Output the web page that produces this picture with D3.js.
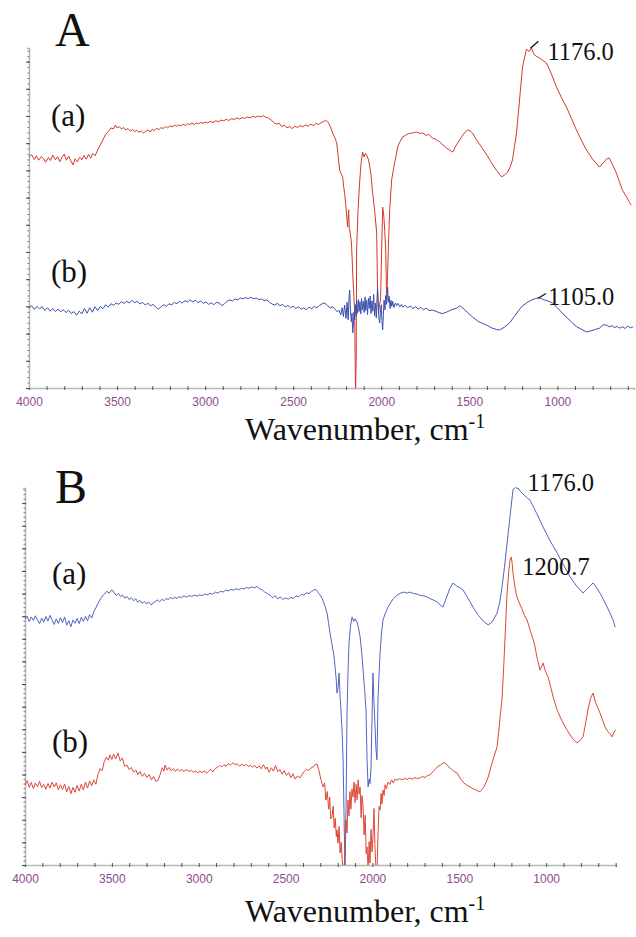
<!DOCTYPE html>
<html>
<head>
<meta charset="utf-8">
<script src="https://cdn.jsdelivr.net/npm/d3@7"></script>
<style>
  body { margin: 0; background: #fff; }
  .serif { font-family: "Liberation Serif", "Times New Roman", serif; fill: #111; }
  .axis text { font-family: "Liberation Sans", Arial, sans-serif; font-size: 12px; fill: #8e4a91; }
</style>
</head>
<body>
<div id="chart"></div>
<script>
// [wavenumber cm-1, transmittance (a.u.)]
const redA = [
  [4000,67.9],[3985,68.6],[3970,67.2],[3958,68.3],[3945,67.0],[3930,68.1],[3918,67.5],[3905,66.4],[3890,67.8],[3878,66.9],
  [3865,68.5],[3850,67.1],[3838,68.0],[3825,66.6],[3812,67.9],[3800,68.8],[3788,67.0],[3775,68.2],[3762,66.8],[3750,65.6],
  [3738,67.4],[3725,66.5],[3712,67.9],[3700,67.1],[3688,68.4],[3675,67.3],[3662,68.7],[3650,67.6],[3638,69.0],[3625,68.3],
  [3610,70.0],[3595,71.5],[3580,73.0],[3565,74.6],[3550,75.4],[3535,76.5],[3520,76.2],[3510,77.3],[3500,76.5],[3488,76.9],
  [3475,76.2],[3462,76.6],[3450,75.9],[3438,76.3],[3425,75.6],[3412,76.0],[3400,75.4],[3388,75.8],[3375,75.2],[3362,75.6],
  [3350,75.0],[3338,75.5],[3325,75.9],[3312,75.3],[3300,76.1],[3288,75.7],[3275,76.4],[3262,76.0],[3250,76.6],[3238,76.3],
  [3225,76.9],[3212,76.5],[3200,77.1],[3188,76.8],[3175,77.3],[3162,77.0],[3150,77.4],[3138,77.1],[3125,77.6],[3112,77.2],
  [3100,77.7],[3088,77.5],[3075,77.9],[3062,77.5],[3050,78.0],[3038,77.7],[3025,78.1],[3012,77.8],[3000,78.2],[2985,78.0],
  [2970,78.4],[2955,78.1],[2940,78.6],[2925,78.3],[2910,78.8],[2895,78.6],[2880,79.0],[2865,78.7],[2850,79.2],[2835,79.0],
  [2820,79.4],[2805,79.1],[2790,79.5],[2775,79.3],[2760,79.7],[2745,79.5],[2730,79.9],[2715,79.6],[2700,80.0],[2685,79.7],
  [2670,80.1],[2655,79.6],[2640,79.4],[2625,78.8],[2610,78.1],[2595,77.6],[2580,77.9],[2565,76.9],[2550,77.3],[2535,76.5],
  [2520,76.9],[2505,76.3],[2490,77.0],[2475,76.6],[2460,77.2],[2445,76.8],[2430,77.4],[2415,77.0],[2400,77.6],[2385,77.2],
  [2370,77.8],[2355,77.5],[2340,78.1],[2325,78.4],[2315,78.8],[2300,78.0],[2290,77.0],[2276,75.0],[2265,73.8],[2253,72.1],
  [2244,68.0],[2236,64.1],[2228,63.0],[2219,62.1],[2213,59.0],[2208,57.4],[2200,53.0],[2191,47.4],[2185,52.4],[2182,47.0],
  [2179,46.5],[2172,44.0],[2168,41.5],[2162,33.8],[2151,22.1],[2146,-2],[2142,10],[2140,40.6],[2132,52],[2123,60.3],
  [2115,66],[2106,69.4],[2098,68.0],[2090,69.0],[2083,68.5],[2072,67.1],[2060,63.5],[2049,57.4],[2038,52.4],[2026,45.6],
  [2021,28.8],[2015,22.1],[2010,24.5],[2004,25.9],[1998,40],[1992,53.2],[1986,50.9],[1980,46],[1975,40.6],[1969,25.9],
  [1964,33.8],[1958,44],[1952,52.4],[1941,61.2],[1932,64.0],[1924,66.2],[1915,68.5],[1907,70.9],[1895,72.3],[1879,73.8],
  [1860,74.4],[1840,74.9],[1822,75.0],[1800,75.3],[1780,74.9],[1765,75.0],[1745,74.3],[1730,74.6],[1709,73.5],[1690,73.1],
  [1669,72.4],[1650,71.5],[1630,70.6],[1612,70.0],[1595,69.4],[1570,71.8],[1544,73.8],[1525,75.2],[1510,75.9],[1495,75.6],
  [1482,75.0],[1460,73.0],[1431,70.9],[1400,68.5],[1374,66.2],[1345,64.0],[1317,62.1],[1300,62.6],[1283,63.5],[1268,65.0],
  [1255,67.1],[1245,70.5],[1232,75.0],[1215,84.7],[1198,94.4],[1185,97.5],[1176,99.6],[1160,99.0],[1147,100],[1138,98.8],
  [1130,97.9],[1100,97.0],[1062,95.6],[1035,92.5],[1005,88.5],[975,85.2],[948,82.6],[920,79.2],[892,75.9],[865,73.0],
  [835,70.0],[800,67.3],[775,65.8],[761,65.0],[740,66.2],[720,67.4],[705,67.6],[690,66.0],[665,63.2],[650,61.0],
  [631,58.2],[605,56.0],[590,54.5],[580,53.8]
]

const blueA = [
  [4000,23.5],[3985,24.2],[3970,23.1],[3955,24.0],[3940,23.3],[3925,23.9],[3910,22.8],[3895,23.6],[3880,22.6],[3865,23.4],
  [3850,22.5],[3835,23.2],[3820,22.4],[3805,23.0],[3790,22.2],[3775,22.9],[3760,21.9],[3745,22.5],[3730,21.4],[3715,22.6],
  [3700,21.8],[3685,23.4],[3670,22.0],[3655,23.6],[3640,22.3],[3625,23.9],[3610,22.8],[3595,24.0],[3580,23.3],[3565,24.5],
  [3550,23.8],[3535,24.8],[3520,24.3],[3505,25.0],[3490,24.6],[3475,25.4],[3460,24.9],[3445,25.5],[3430,25.0],[3415,25.8],
  [3400,25.1],[3385,25.5],[3370,24.7],[3355,25.2],[3340,24.4],[3325,24.9],[3310,24.2],[3295,24.6],[3280,23.8],[3265,23.2],
  [3250,23.9],[3235,24.5],[3220,24.0],[3205,24.8],[3190,24.4],[3175,25.2],[3160,24.8],[3145,25.5],[3130,25.0],[3115,25.7],
  [3100,25.3],[3085,25.9],[3070,25.4],[3055,25.8],[3040,25.1],[3025,25.6],[3010,24.9],[2995,25.3],[2980,24.6],[2965,25.1],
  [2950,24.5],[2935,25.2],[2920,25.0],[2905,24.2],[2890,24.8],[2875,25.5],[2860,25.9],[2845,25.6],[2830,26.2],[2815,25.9],
  [2800,26.5],[2785,26.2],[2770,26.6],[2755,26.3],[2740,26.7],[2725,26.2],[2710,26.5],[2695,26.0],[2680,26.2],[2665,25.7],
  [2650,25.9],[2635,25.2],[2620,24.7],[2605,24.4],[2590,24.9],[2575,24.2],[2560,24.6],[2545,23.8],[2530,24.3],[2515,23.6],
  [2500,24.1],[2485,23.4],[2470,23.9],[2455,23.2],[2440,23.6],[2425,23.0],[2410,23.8],[2395,23.3],[2380,24.0],[2365,23.6],
  [2350,24.3],[2335,24.8],[2321,25.0],[2305,24.2],[2290,23.6],[2275,23.9],[2260,23.0],[2250,22.4],[2240,22.9],[2230,21.5],
  [2222,23.6],[2215,21.0],[2208,24.4],[2200,20.5],[2194,25.2],[2188,20.1],[2182,27.2],[2179,28.8],[2175,23.0],[2170,19.5],
  [2166,22.0],[2162,16.2],[2158,18.8],[2155,22.4],[2151,20.0],[2147,24.5],[2143,21.2],[2140,25.9],[2135,22.0],[2130,26.0],
  [2126,22.5],[2121,25.4],[2116,21.8],[2112,26.3],[2107,23.0],[2102,25.5],[2097,22.2],[2092,26.8],[2088,22.8],[2083,25.8],
  [2078,21.6],[2073,26.4],[2068,23.4],[2063,27.0],[2058,21.9],[2053,25.6],[2048,22.6],[2043,27.5],[2038,21.2],[2033,25.0],
  [2028,20.6],[2024,26.2],[2021,29.7],[2017,23.5],[2013,20.4],[2009,19.1],[2004,22.8],[2000,24.5],[1996,19.8],[1992,17.1],
  [1988,21.6],[1984,25.8],[1979,23.0],[1975,27.2],[1970,24.6],[1966,28.4],[1964,29.7],[1960,25.2],[1955,27.0],[1950,23.4],
  [1945,25.8],[1940,24.0],[1935,25.5],[1928,23.7],[1920,25.0],[1913,24.2],[1905,24.9],[1895,23.9],[1885,24.6],[1879,23.8],
  [1865,24.3],[1850,23.6],[1835,24.1],[1820,23.4],[1805,23.9],[1790,23.2],[1775,23.7],[1760,23.0],[1745,23.5],[1730,22.8],
  [1709,22.9],[1690,22.6],[1670,22.1],[1650,21.9],[1630,22.3],[1610,22.8],[1590,23.2],[1572,23.5],[1555,24.2],[1544,23.8],
  [1530,23.2],[1510,22.2],[1482,20.9],[1450,19.6],[1420,18.9],[1402,18.5],[1370,17.6],[1345,17.2],[1328,17.1],[1300,17.9],
  [1272,19.1],[1245,21.0],[1220,22.8],[1200,24.1],[1175,25.0],[1150,25.8],[1125,26.3],[1105,26.6],[1080,26.0],[1055,25.6],
  [1028,25.0],[1000,23.6],[970,21.9],[940,20.4],[914,19.1],[890,18.0],[860,17.2],[835,16.5],[810,16.8],[785,17.2],
  [761,17.6],[740,18.6],[722,18.5],[705,18.0],[690,18.3],[675,17.8],[660,18.1],[648,17.6],[630,18.0],[615,17.5],
  [600,18.2],[585,17.7],[570,18.0]
]

const blueB = [
  [4000,65.2],[3988,66.0],[3976,64.6],[3964,65.8],[3952,64.9],[3940,66.1],[3928,65.0],[3916,64.0],[3904,65.5],[3892,64.4],
  [3880,65.9],[3868,64.7],[3856,66.2],[3844,65.0],[3832,63.8],[3820,65.3],[3808,64.1],[3796,65.6],[3784,64.3],[3772,65.8],
  [3760,63.6],[3748,64.8],[3736,63.2],[3724,65.0],[3712,64.1],[3700,65.4],[3688,64.0],[3676,65.7],[3664,64.6],[3652,65.9],
  [3640,64.8],[3628,66.4],[3616,65.5],[3604,67.2],[3590,68.4],[3575,69.8],[3560,71.0],[3545,71.8],[3530,72.6],[3515,72.1],
  [3500,73.0],[3488,72.3],[3475,71.5],[3462,72.0],[3450,71.2],[3438,71.6],[3425,70.8],[3412,71.2],[3400,70.4],[3388,70.9],
  [3375,70.1],[3362,70.6],[3350,69.7],[3338,70.2],[3325,69.4],[3312,69.9],[3300,69.2],[3288,69.8],[3275,69.0],[3262,69.5],
  [3250,69.9],[3238,70.3],[3225,69.8],[3212,70.5],[3200,70.1],[3188,70.7],[3175,70.4],[3162,71.0],[3150,70.6],[3138,71.0],
  [3125,70.7],[3112,71.2],[3100,70.9],[3085,71.4],[3070,71.0],[3055,71.5],[3040,71.2],[3025,71.6],[3010,71.3],[2995,71.7],
  [2980,71.4],[2965,71.9],[2950,71.6],[2935,72.1],[2920,71.8],[2905,72.4],[2890,72.1],[2875,72.6],[2860,72.4],[2845,72.9],
  [2830,72.7],[2815,73.1],[2800,72.9],[2785,73.3],[2770,73.0],[2755,73.4],[2740,73.2],[2725,73.6],[2710,73.4],[2695,73.8],
  [2680,73.5],[2665,73.9],[2650,73.3],[2635,73.0],[2620,72.4],[2605,72.0],[2590,71.6],[2575,70.9],[2560,71.4],[2545,70.6],
  [2530,71.1],[2515,70.4],[2500,70.9],[2485,70.5],[2470,71.0],[2455,70.7],[2440,71.4],[2425,71.1],[2410,71.8],[2395,71.6],
  [2380,72.2],[2365,72.0],[2350,72.6],[2338,72.9],[2330,73.2],[2318,72.6],[2305,71.8],[2290,70.8],[2275,68.9],[2261,66.8],
  [2252,64.0],[2244,61.5],[2235,59.0],[2227,57.0],[2220,55.0],[2215,52.5],[2208,49.0],[2204,45.6],[2198,47.0],[2192,50.9],
  [2186,44.5],[2181,41.1],[2175,35.8],[2169,27.9],[2163,12.0],[2158,-2],[2152,15],[2146,41.1],[2140,52.0],[2135,58.9],
  [2126,63.5],[2117,65.8],[2108,64.6],[2100,65.3],[2089,64.5],[2080,62.8],[2071,60.5],[2062,56.5],[2054,51.7],[2045,46.5],
  [2037,41.1],[2031,27.9],[2025,20.7],[2019,22.8],[2014,21.6],[2008,26.0],[2002,40.0],[1997,50.9],[1991,43.0],[1985,36.6],
  [1980,31.0],[1974,27.9],[1968,43.8],[1962,50.5],[1956,56.2],[1948,61.5],[1939,65.0],[1925,66.9],[1910,68.4],[1895,69.6],
  [1880,70.6],[1858,71.6],[1840,72.1],[1820,72.4],[1800,72.1],[1784,72.4],[1765,72.0],[1745,71.9],[1725,71.5],[1705,71.4],
  [1686,71.1],[1665,70.6],[1645,70.2],[1628,69.8],[1610,69.0],[1594,68.4],[1575,70.8],[1555,73.3],[1536,74.8],[1515,74.0],
  [1495,73.5],[1478,72.9],[1450,70.8],[1421,68.4],[1390,66.2],[1360,64.6],[1334,63.7],[1310,64.5],[1283,66.8],[1268,69.5],
  [1254,73.7],[1240,79.0],[1225,85.4],[1208,92.5],[1191,99.5],[1176,100.2],[1170,99.9],[1162,100],[1150,99.2],[1139,98.7],
  [1115,97.6],[1093,96.8],[1055,93.3],[1018,89.7],[980,86.2],[937,82.8],[900,79.6],[862,76.4],[825,74.0],[788,72.1],
  [760,73.4],[730,74.8],[710,73.6],[690,72.1],[660,69.5],[632,66.8],[615,65.0],[603,63.1]
]

const redB = [
  [4000,21.2],[3988,22.4],[3976,20.6],[3964,21.9],[3952,20.3],[3940,21.7],[3928,20.8],[3916,22.2],[3904,20.5],[3892,21.4],
  [3880,20.1],[3868,21.6],[3856,20.4],[3844,22.0],[3832,20.7],[3820,21.8],[3808,19.9],[3796,21.3],[3784,20.0],[3772,21.5],
  [3760,19.4],[3748,20.8],[3736,18.9],[3724,20.6],[3712,19.3],[3700,21.1],[3688,19.6],[3676,21.4],[3664,19.9],[3652,22.0],
  [3640,20.4],[3628,22.3],[3616,21.0],[3604,22.6],[3592,21.4],[3580,24.0],[3568,25.6],[3556,25.0],[3544,27.4],[3532,28.6],
  [3520,27.8],[3511,29.2],[3500,28.0],[3490,29.4],[3478,28.1],[3465,29.7],[3452,27.6],[3440,28.4],[3426,26.2],[3413,26.5],
  [3400,25.3],[3388,25.9],[3375,24.6],[3362,25.2],[3350,24.0],[3338,24.8],[3325,23.5],[3312,24.3],[3298,23.2],[3285,24.0],
  [3272,22.6],[3260,23.5],[3247,22.2],[3234,22.5],[3222,24.0],[3210,25.8],[3200,24.9],[3194,26.5],[3182,25.2],[3170,25.9],
  [3158,25.0],[3146,25.6],[3134,24.8],[3122,25.5],[3110,24.9],[3098,25.4],[3086,24.7],[3074,25.3],[3067,25.2],[3055,24.8],
  [3042,25.1],[3030,24.6],[3018,25.0],[3006,24.4],[2994,24.9],[2980,24.5],[2968,25.0],[2955,24.3],[2942,24.9],[2930,25.4],
  [2918,24.7],[2905,25.6],[2892,25.9],[2880,26.4],[2868,26.0],[2855,26.6],[2842,26.2],[2830,26.9],[2818,26.5],[2803,27.1],
  [2790,26.6],[2778,26.9],[2765,26.2],[2752,26.8],[2740,26.3],[2728,26.7],[2715,26.1],[2702,26.5],[2690,25.9],[2678,26.4],
  [2665,25.7],[2652,26.3],[2640,25.5],[2627,26.6],[2615,25.4],[2607,26.0],[2595,24.6],[2582,25.8],[2570,24.9],[2558,26.4],
  [2545,24.8],[2532,25.3],[2520,24.1],[2508,25.0],[2495,23.8],[2482,24.5],[2470,23.1],[2458,24.2],[2445,22.8],[2432,23.6],
  [2417,23.1],[2405,24.0],[2392,24.8],[2380,25.4],[2368,25.0],[2355,25.7],[2342,26.0],[2330,26.6],[2319,26.8],[2310,25.4],
  [2302,23.8],[2295,22.4],[2284,20.7],[2275,21.8],[2268,17.2],[2260,19.5],[2252,14.8],[2246,18.0],[2240,12.2],[2233,12.7],
  [2226,15.6],[2220,9.8],[2214,12.4],[2208,7.5],[2204,9.3],[2198,5.8],[2192,10.2],[2186,3.2],[2180,6.0],[2175,2.1],
  [2170,-1],[2164,-2],[2158,4.0],[2152,12.0],[2146,8.5],[2141,17.2],[2135,13.0],[2130,19.5],[2124,14.8],[2118,20.2],
  [2112,18.0],[2106,22.0],[2100,16.5],[2094,21.4],[2088,17.3],[2082,22.6],[2077,18.8],[2071,20.7],[2065,12.5],[2060,18.4],
  [2054,15.4],[2048,8.0],[2042,13.2],[2036,3.0],[2031,4.8],[2025,-1],[2019,6.2],[2014,0.5],[2008,9.4],[2002,3.5],
  [1997,7.4],[1991,15.0],[1986,5.5],[1980,-1.0],[1974,-2],[1968,8.0],[1962,15.5],[1956,14.6],[1950,19.0],[1945,16.2],
  [1939,19.9],[1933,18.4],[1927,21.3],[1920,20.2],[1910,22.0],[1900,21.4],[1890,22.6],[1880,21.8],[1870,22.8],[1858,22.5],
  [1845,22.9],[1830,22.6],[1815,23.0],[1800,22.7],[1785,23.1],[1770,22.8],[1755,23.2],[1740,22.9],[1726,23.1],[1712,23.5],
  [1698,23.2],[1684,23.7],[1668,23.9],[1650,24.8],[1630,25.9],[1610,26.5],[1595,27.0],[1582,27.1],[1565,26.2],[1545,25.4],
  [1530,24.8],[1513,24.4],[1495,23.0],[1475,21.8],[1458,21.2],[1438,20.7],[1420,20.2],[1400,19.8],[1381,19.4],[1360,20.6],
  [1345,22.0],[1334,23.3],[1315,26.5],[1300,28.8],[1283,31.3],[1274,35.0],[1265,39.3],[1254,44.0],[1245,52.0],[1235,62.0],
  [1225,72.1],[1215,78.0],[1208,80.8],[1201,81.7],[1196,80.2],[1191,77.5],[1180,73.8],[1170,71.4],[1162,70.3],[1140,68.0],
  [1125,66.2],[1110,65.0],[1090,62.0],[1075,59.9],[1064,57.8],[1050,54.5],[1035,51.7],[1025,52.8],[1018,53.6],[1005,51.5],
  [989,49.9],[975,47.4],[960,44.6],[937,41.1],[910,38.3],[880,35.8],[850,33.6],[822,32.4],[805,33.0],[788,34.0],
  [775,37.0],[760,41.1],[745,44.2],[730,45.6],[715,43.0],[700,41.4],[690,40.3],[675,38.5],[661,36.6],[645,35.4],
  [632,34.8],[621,34.0],[610,35.2],[600,35.8]
]

const xTicks = d3.range(4000, 550, -100)
const tickLabels = [4000, 3500, 3000, 2500, 2000, 1500, 1000]

const svg = d3.select('#chart')
    .append('svg')
        .attr('width', 636)
        .attr('height', 937)

const createPanel = (id, {left, right, top, bottom, wnEnd, major}) => {
    const xScale = d3.scaleLinear().domain([4000, wnEnd]).range([left, right])
    const yScale = d3.scaleLinear().domain([0, 100]).range([bottom, top])
    const g = svg.append('g').attr('class', 'panel')

    g.append('clipPath')
        .attr('id', 'clip' + id)
        .append('rect')
            .attr('x', left)
            .attr('y', top - 2)
            .attr('width', right - left + 2)
            .attr('height', bottom - top + 2)

    // x axis: tick every 100, label every 500
    const xAxis = d3.axisBottom(xScale)
        .tickValues(xTicks.filter((d) => d >= wnEnd))
        .tickSize(2)
        .tickFormat((d) => tickLabels.includes(d) ? d : '')
    const xg = g.append('g')
        .attr('class', 'axis')
        .attr('transform', 'translate(0,' + bottom + ')')
        .call(xAxis)
    xg.select('.domain').attr('stroke', '#b8b8b8').attr('stroke-width', 1.5)
    xg.selectAll('.tick line').attr('y1', -2).attr('stroke', '#555')
    xg.selectAll('.tick text').attr('y', 9)

    // y axis: major + minor ticks, no labels
    const minorAxis = d3.axisLeft(yScale)
        .tickValues(d3.range(0, 100.01, major / 5))
        .tickSize(2)
        .tickFormat('')
    const yg = g.append('g')
        .attr('class', 'axis')
        .attr('transform', 'translate(' + left + ',0)')
        .call(minorAxis)
    yg.select('.domain').attr('stroke', '#b8b8b8').attr('stroke-width', 1.5)
    yg.selectAll('.tick line').attr('stroke', '#777').attr('x2', -1.5).attr('x1', 0.5)
    yg.append('g')
        .call(d3.axisLeft(yScale).tickValues(d3.range(0, 100.01, major)).tickSize(3).tickFormat(''))
        .call((s) => s.select('.domain').remove())
        .selectAll('.tick line').attr('stroke', '#444').attr('x1', 1)

    const plot = g.append('g').attr('clip-path', 'url(#clip' + id + ')')
    return {g, plot, xScale, yScale, bottom}
}

const plotSpectrum = (panel, data, color) => {
    const line = d3.line()
        .x((d) => panel.xScale(d[0]))
        .y((d) => panel.yScale(d[1]))
    panel.plot.append('path')
        .attr('d', line(data))
        .attr('fill', 'none')
        .attr('stroke', color)
        .attr('stroke-width', 1)
        .attr('stroke-linejoin', 'round')
}

const addText = (g, x, y, text, size) =>
    g.append('text')
        .attr('class', 'serif')
        .attr('x', x)
        .attr('y', y)
        .style('font-size', size + 'px')
        .text(text)

const addPeakLabel = (panel, wn, value, text, dx, dy, leader) => {
    const px = panel.xScale(wn)
    const py = panel.yScale(value)
    if (leader) {
        panel.g.append('line')
            .attr('x1', px + leader[0]).attr('y1', py + leader[1])
            .attr('x2', px + leader[2]).attr('y2', py + leader[3])
            .attr('stroke', '#111')
            .attr('stroke-width', 1.3)
    }
    addText(panel.g, px + dx, py + dy, text, 24.5)
}

const addXLabel = (panel, y) => {
    const t = addText(panel.g, 245, y, 'Wavenumber, cm', 32)
    t.append('tspan')
        .attr('dy', -12)
        .style('font-size', '20px')
        .text('-1')
}

// Panel A
const panelA = createPanel('A', {left: 29, right: 634, top: 48, bottom: 388, wnEnd: 565, major: 8})
plotSpectrum(panelA, redA, '#d6382c')
plotSpectrum(panelA, blueA, '#3a4fb2')
addText(panelA.g, 55, 46, 'A', 48)
addText(panelA.g, 51, 126, '(a)', 31)
addText(panelA.g, 51, 282, '(b)', 31)
addPeakLabel(panelA, 1176, 99.6, '1176.0', 21, 11, [4, -1, 12, -8])
addPeakLabel(panelA, 1105, 26.6, '1105.0', 9, 7, [-1, 1, 7, -4])
addXLabel(panelA, 440)

// Panel B
const panelB = createPanel('B', {left: 25, right: 616, top: 488, bottom: 865, wnEnd: 598, major: 6})
plotSpectrum(panelB, blueB, '#5064c2')
plotSpectrum(panelB, redB, '#dc4838')
addText(panelB.g, 55, 503, 'B', 48)
addText(panelB.g, 52, 584, '(a)', 31)
addText(panelB.g, 52, 752, '(b)', 31)
addPeakLabel(panelB, 1176, 100.2, '1176.0', 12, 4)
addPeakLabel(panelB, 1200.7, 81.7, '1200.7', 11, 18)
addXLabel(panelB, 922)
</script>
</body>
</html>
